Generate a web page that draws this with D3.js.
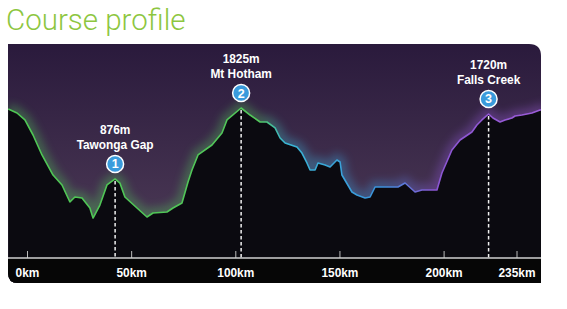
<!DOCTYPE html>
<html>
<head>
<meta charset="utf-8">
<script src="https://cdn.jsdelivr.net/npm/d3@7"></script>
<style>
  body { margin: 0; background: #fff; }
  svg { display: block; }
</style>
</head>
<body>
<script>
// distance along course (km) and elevation (m)
var km = [-9, -4.8, -1, 2.9, 7.2, 12.5, 16.8, 20.6, 23, 26.4, 30.2, 31.7, 35, 38.4, 42.3, 44.6, 47, 52.8, 57.6, 60.5,
          67.2, 70.1, 74.4, 77.3, 79.2, 82.1, 88.8, 93.6, 96, 102.8, 107.1, 111.9, 115.2, 119.1, 121.5, 123.9, 129.6, 132,
          134.4, 135.9, 138.3, 139.7, 143.1, 145.5, 148.8, 150.3, 151.2, 156, 158.4, 162.3, 164.7, 167.1, 170.9, 178.1,
          181.5, 186.3, 189.6, 196.8, 199.2, 204, 207.9, 213.6, 216, 218.4, 221.6, 223.7, 227.1, 229.5, 232.8, 234.3,
          237.6, 242.4, 246.3, 249];
var elev = [1812, 1758, 1665, 1464, 1197, 929, 796, 568, 635, 622, 488, 354, 528, 796, 876, 822, 635, 488, 368, 421,
            435, 488, 555, 836, 996, 1197, 1330, 1491, 1665, 1825, 1731, 1638, 1638, 1558, 1424, 1357, 1304, 1223,
            1090, 996, 996, 1090, 1063, 1036, 1130, 1103, 929, 702, 662, 622, 635, 769, 769, 769,
            822, 702, 729, 729, 956, 1263, 1397, 1504, 1598, 1665, 1745, 1691, 1638, 1665, 1691, 1718,
            1731, 1758, 1798, 1798];

// the three climbs
var peakKm = [42.3, 102.8, 221.6];
var peakElev = [876, 1825, 1745];
var peakHeight = ['876m', '1825m', '1720m'];
var peakName = ['Tawonga Gap', 'Mt Hotham', 'Falls Creek'];

var tickKm = [0, 50, 100, 150, 200, 235];

var width = 567, height = 309;
// note: "top" is taken by window.top, so prefix everything
var pLeft = 8, pRight = 541, pTop = 44, pBottom = 283, axisY = 258;

var labelFont = '"Liberation Sans", Arial, sans-serif';
var squeeze = 'scale(0.88,1)'; // fake a condensed bold face

var svg = d3.select('body').append('svg')
    .attr('width', width)
    .attr('height', height);

var defs = svg.append('defs');

//panel shape: square top-left and bottom-right, rounded others
var panelPath = 'M' + pLeft + ',' + pTop + 'H' + (pRight - 12) + 'Q' + pRight + ',' + pTop + ' ' + pRight + ',' + (pTop + 12) +
    'V' + pBottom + 'H' + (pLeft + 10) + 'Q' + pLeft + ',' + pBottom + ' ' + pLeft + ',' + (pBottom - 10) + 'Z';

defs.append('clipPath').attr('id', 'panel').append('path').attr('d', panelPath);

var sky = defs.append('linearGradient').attr('id', 'sky')
    .attr('x1', 0).attr('y1', 0).attr('x2', 0).attr('y2', 1);
sky.append('stop').attr('offset', '0%').attr('stop-color', '#2a1a3c');
sky.append('stop').attr('offset', '70%').attr('stop-color', '#473552');
sky.append('stop').attr('offset', '100%').attr('stop-color', '#4c3b55');

var lineGrad = defs.append('linearGradient').attr('id', 'lineGrad')
    .attr('gradientUnits', 'userSpaceOnUse')
    .attr('x1', pLeft).attr('y1', 0).attr('x2', pRight).attr('y2', 0);
[[0, '#4ec653'], [0.47, '#52c65a'], [0.52, '#3ab6d4'], [0.7, '#3a92dc'], [0.8, '#8a55d2'], [1, '#9c5cd8']]
    .forEach(function(s) {
        lineGrad.append('stop').attr('offset', s[0]).attr('stop-color', s[1]);
    });

var blur = defs.append('filter').attr('id', 'glow')
    .attr('x', '-10%').attr('y', '-20%').attr('width', '120%').attr('height', '140%');
blur.append('feGaussianBlur').attr('stdDeviation', 4);

//scales
var x = d3.scaleLinear().domain([0, 235]).range([27, 516.5]);
var y = d3.scaleLinear().domain([0, 1825]).range([244.5, 108]);

var pts = km.map(function(k, i) { return [k, elev[i]]; });

var g = svg.append('g').attr('clip-path', 'url(#panel)');

g.append('rect')
    .attr('x', pLeft).attr('y', pTop)
    .attr('width', pRight - pLeft).attr('height', pBottom - pTop)
    .attr('fill', 'url(#sky)');

var line = d3.line()
    .x(function(d) { return x(d[0]); })
    .y(function(d) { return y(d[1]); });

var area = d3.area()
    .x(function(d) { return x(d[0]); })
    .y0(pBottom)
    .y1(function(d) { return y(d[1]); });

//glow along the ridge
g.append('path')
    .attr('d', line(pts))
    .attr('fill', 'none')
    .attr('stroke', 'url(#lineGrad)')
    .attr('stroke-width', 12)
    .attr('opacity', 0.35)
    .attr('filter', 'url(#glow)');

g.append('path')
    .attr('d', area(pts))
    .attr('fill', '#0b0a10');

g.append('path')
    .attr('d', line(pts))
    .attr('fill', 'none')
    .attr('stroke', 'url(#lineGrad)')
    .attr('stroke-width', 1.6)
    .attr('stroke-linejoin', 'round');

//bottom band
g.append('rect')
    .attr('x', pLeft).attr('y', axisY)
    .attr('width', pRight - pLeft).attr('height', pBottom - axisY)
    .attr('fill', '#060606');

//dashed lines from the peaks
g.selectAll('.drop')
    .data(peakKm)
    .enter().append('line')
    .attr('class', 'drop')
    .attr('x1', function(d) { return x(d); })
    .attr('x2', function(d) { return x(d); })
    .attr('y1', function(d, i) { return y(peakElev[i]) + 2; })
    .attr('y2', axisY)
    .attr('stroke', '#f0f0f0')
    .attr('stroke-width', 1.5)
    .attr('stroke-dasharray', '3.5,2.5');

//axis
var xAxis = d3.axisBottom(x)
    .tickValues(tickKm)
    .tickSize(-7)
    .tickPadding(9)
    .tickFormat(function(d) { return d + 'km'; });

var ax = svg.append('g')
    .attr('transform', 'translate(0,' + axisY + ')')
    .call(xAxis);
ax.select('.domain').remove();
ax.selectAll('.tick line').attr('stroke', '#bbbbbb').attr('stroke-width', 1);
ax.selectAll('.tick text')
    .attr('fill', '#ffffff')
    .attr('transform', squeeze)
    .style('font-family', labelFont)
    .style('font-weight', 'bold')
    .style('font-size', '13.5px');

svg.append('line')
    .attr('x1', pLeft).attr('x2', pRight)
    .attr('y1', axisY).attr('y2', axisY)
    .attr('stroke', '#d0d0d0')
    .attr('stroke-width', 1.5);

//peak labels
var peaks = svg.selectAll('.peak')
    .data(peakKm)
    .enter().append('g')
    .attr('class', 'peak')
    .attr('transform', function(d, i) {
        return 'translate(' + x(d) + ',' + (y(peakElev[i]) - 15) + ')';
    });

peaks.append('circle')
    .attr('r', 8.5)
    .attr('fill', '#3a9bdc')
    .attr('stroke', '#ffffff')
    .attr('stroke-width', 1.5);

peaks.append('text')
    .attr('y', 4.5)
    .attr('text-anchor', 'middle')
    .attr('fill', '#fff')
    .style('font-family', labelFont)
    .style('font-weight', 'bold')
    .style('font-size', '12.5px')
    .text(function(d, i) { return i + 1; });

peaks.append('text')
    .attr('y', -15)
    .attr('text-anchor', 'middle')
    .attr('transform', squeeze)
    .attr('fill', '#fff')
    .style('font-family', labelFont)
    .style('font-weight', 'bold')
    .style('font-size', '13.5px')
    .text(function(d, i) { return peakName[i]; });

peaks.append('text')
    .attr('y', -30)
    .attr('text-anchor', 'middle')
    .attr('transform', squeeze)
    .attr('fill', '#fff')
    .style('font-family', labelFont)
    .style('font-weight', 'bold')
    .style('font-size', '13.5px')
    .text(function(d, i) { return peakHeight[i]; });

//title
svg.append('text')
    .attr('x', 6)
    .attr('y', 30)
    .attr('fill', '#8dc63f')
    .style('font-family', 'Roboto, "Liberation Sans", sans-serif')
    .style('font-weight', 300)
    .style('font-size', '29.5px')
    .text('Course profile');
</script>
</body>
</html>
